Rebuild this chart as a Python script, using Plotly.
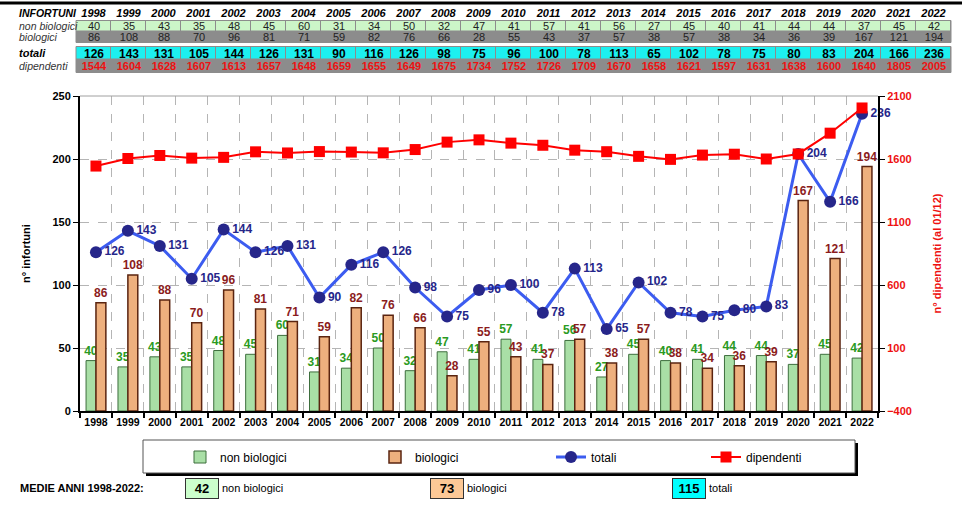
import plotly.graph_objects as go

years = ["1998", "1999", "2000", "2001", "2002", "2003", "2004", "2005", "2006",
         "2007", "2008", "2009", "2010", "2011", "2012", "2013", "2014", "2015",
         "2016", "2017", "2018", "2019", "2020", "2021", "2022"]
non_biologici = [40, 35, 43, 35, 48, 45, 60, 31, 34, 50, 32, 47, 41, 57, 41, 56, 27,
                 45, 40, 41, 44, 44, 37, 45, 42]
biologici = [86, 108, 88, 70, 96, 81, 71, 59, 82, 76, 66, 28, 55, 43, 37, 57, 38, 57,
             38, 34, 36, 39, 167, 121, 194]
totali = [126, 143, 131, 105, 144, 126, 131, 90, 116, 126, 98, 75, 96, 100, 78, 113,
          65, 102, 78, 75, 80, 83, 204, 166, 236]
dipendenti = [1544, 1604, 1628, 1607, 1613, 1657, 1648, 1659, 1655, 1649, 1675, 1734,
              1752, 1726, 1709, 1670, 1658, 1621, 1597, 1631, 1638, 1600, 1640, 1805, 2005]
row_labels = ["non biologici", "biologici", "totali", "dipendenti"]

W, H = 973, 508
FONT = "Liberation Sans, Arial, sans-serif"


def px(x):
    return x / W


def py(y):
    return 1 - y / H


C_GREEN_CELL = "#ccf5c8"
C_ORANGE_CELL = "#f9c696"
C_CYAN = "#1cf0f0"
C_GREEN_BAR = "#a9dfa6"
C_ORANGE_BAR = "#eeb07e"
C_GREEN_TXT = "#2a9a22"
C_RED_TXT = "#8b1c1c"
C_NAVY = "#26268a"
C_BLUE = "#3c5cf0"
C_BORDER = "#8c8c8c"

n = len(years)
fig = go.Figure()

# ---------- top table drawn as heatmaps (one trace per row) ----------
table_rows = [
    (row_labels[0], non_biologici, C_GREEN_CELL, "#222", "normal", 11, "y3"),
    (row_labels[1], biologici, C_ORANGE_CELL, "#222", "normal", 11, "y3"),
    (row_labels[2], totali, C_CYAN, "black", "bold", 12, "y4"),
    (row_labels[3], dipendenti, "white", "#ee1111", "bold", 11, "y4"),
]
for name, vals, fill, tcol, weight, size, yax in table_rows:
    fig.add_trace(go.Heatmap(
        x=years, y=[name], z=[[0] * n], text=[[str(v) for v in vals]],
        texttemplate="%{text}",
        textfont=dict(family=FONT, size=size, color=tcol, weight=weight),
        colorscale=[[0, fill], [1, fill]], showscale=False, xgap=1, ygap=1,
        hoverinfo="skip", xaxis="x3", yaxis=yax))

# ---------- chart ----------
fig.add_trace(go.Bar(
    x=years, y=non_biologici, name="non biologici", legend="legend",
    marker=dict(color=C_GREEN_BAR, line=dict(color="#3d6e3d", width=1)),
    text=[str(v) for v in non_biologici], textposition="outside",
    constraintext="none", cliponaxis=False,
    textfont=dict(family=FONT, size=12, color=C_GREEN_TXT, weight="bold"),
    hoverinfo="skip"))
fig.add_trace(go.Bar(
    x=years, y=biologici, name="biologici", legend="legend2",
    marker=dict(color=C_ORANGE_BAR, line=dict(color="#5a2410", width=1.5)),
    text=[str(v) for v in biologici], textposition="outside",
    constraintext="none", cliponaxis=False,
    textfont=dict(family=FONT, size=12, color=C_RED_TXT, weight="bold"),
    hoverinfo="skip"))
fig.add_trace(go.Scatter(
    x=years, y=totali, name="totali", mode="lines+markers+text", legend="legend3",
    line=dict(color=C_BLUE, width=3),
    marker=dict(symbol="circle", size=12, color=C_NAVY),
    text=[str(v) for v in totali], textposition="middle right",
    textfont=dict(family=FONT, size=12, color=C_NAVY, weight="bold"),
    cliponaxis=False, hoverinfo="skip"))
fig.add_trace(go.Scatter(
    x=years, y=dipendenti, name="dipendenti", mode="lines+markers", yaxis="y2",
    legend="legend4", line=dict(color="#ff0000", width=2),
    marker=dict(symbol="square", size=11, color="#ff0000"),
    cliponaxis=False, hoverinfo="skip"))

# ---------- medie ----------
m_nb = round(sum(non_biologici) / n)
m_b = round(sum(biologici) / n)
m_t = round(sum(totali) / n)


def lab(text, y, size=10.5, color="#333"):
    return dict(text=text, x=px(17), y=py(y), xref="paper", yref="paper",
                xanchor="left", yanchor="middle", showarrow=False,
                font=dict(family=FONT, size=size, color=color))


annotations = [
    lab("<b><i>INFORTUNI</i></b>", 13, 10.5, "black"),
    lab("<i>non biologici</i>", 26),
    lab("<i>biologici</i>", 37),
    lab("<b><i>totali</i></b>", 53, 11, "black"),
    lab("<i>dipendenti</i>", 66),
    dict(text="<b>MEDIE ANNI 1998-2022:</b>", x=px(18), y=py(488), xref="paper",
         yref="paper", xanchor="left", yanchor="middle", showarrow=False,
         font=dict(family=FONT, size=11, color="black")),
]
for val, label, x0, color in [(m_nb, "non biologici", 185, "#ccffcc"),
                              (m_b, "biologici", 430, "#fcc896"),
                              (m_t, "totali", 672, "#00ffff")]:
    annotations.append(dict(
        text="<b>%d</b>" % val, x=px(x0), y=py(488), xref="paper", yref="paper",
        xanchor="left", yanchor="middle", showarrow=False, bgcolor=color,
        bordercolor="#333", borderwidth=1, borderpad=2, width=28, height=15,
        font=dict(family=FONT, size=13, color="black")))
    annotations.append(dict(
        text=label, x=px(x0 + 35), y=py(488), xref="paper", yref="paper",
        xanchor="left", yanchor="middle", showarrow=False,
        font=dict(family=FONT, size=11, color="black")))

shapes = [
    # white background for the chart (plot_bgcolor acts as table border colour)
    dict(type="rect", xref="x domain", yref="y domain", x0=0, x1=1, y0=0, y1=1,
         fillcolor="white", line=dict(width=0), layer="below"),
    # table outlines
    dict(type="rect", xref="x3 domain", yref="y3 domain", x0=0, x1=1, y0=0, y1=1,
         line=dict(color=C_BORDER, width=1), layer="above"),
    dict(type="rect", xref="x3 domain", yref="y4 domain", x0=0, x1=1, y0=0, y1=1,
         line=dict(color=C_BORDER, width=1), layer="above"),
    # thick rule at top
    dict(type="line", xref="paper", yref="paper", x0=0, x1=px(962), y0=py(3),
         y1=py(3), line=dict(color="black", width=3)),
    # plot top border
    dict(type="line", xref="x domain", yref="y domain", x0=0, x1=1, y0=1, y1=1,
         line=dict(color="#a0a0a0", width=1)),
    # legend box shadow and box
    dict(type="rect", xref="paper", yref="paper", x0=px(146), x1=px(858),
         y0=py(476), y1=py(443), fillcolor="black", line=dict(width=0),
         layer="below"),
    dict(type="rect", xref="paper", yref="paper", x0=px(143), x1=px(855),
         y0=py(473), y1=py(440), fillcolor="white",
         line=dict(color="#555", width=1), layer="below"),
]


def leg(text_x):
    return dict(x=px(text_x - 42), y=py(457), xanchor="left", yanchor="middle",
                bgcolor="rgba(0,0,0,0)", borderwidth=0, orientation="h",
                font=dict(family=FONT, size=12, color="black"))


fig.update_layout(
    width=W, height=H, margin=dict(l=0, r=0, t=0, b=0, autoexpand=False),
    paper_bgcolor="white", plot_bgcolor=C_BORDER, hovermode=False,
    font=dict(family=FONT, size=11, color="black"),
    barmode="group", bargap=0.38, bargroupgap=0,
    xaxis=dict(domain=[px(80), px(878)], type="category", tickson="boundaries",
               ticks="outside", ticklen=5, tickwidth=1.5, tickcolor="black",
               showgrid=True, griddash="dash", gridcolor="#b5b5b5", gridwidth=1,
               showline=True, linecolor="black", linewidth=2, tickangle=0,
               automargin=False,
               tickfont=dict(family=FONT, size=10.5, color="black", weight="bold"),
               range=[-0.5, n - 0.5], fixedrange=True),
    yaxis=dict(domain=[py(411), py(96)], range=[0, 250], tick0=0, dtick=50,
               showgrid=True, griddash="dash", gridcolor="#b5b5b5", gridwidth=1,
               zeroline=False, showline=True, linecolor="black", linewidth=2,
               ticks="outside", ticklen=5, tickcolor="black", automargin=False,
               tickfont=dict(family=FONT, size=11, color="black", weight="bold"),
               title=dict(text="<b>n° infortuni</b>", font=dict(size=11), standoff=20)),
    yaxis2=dict(overlaying="y", side="right", anchor="x", range=[-400, 2100],
                tick0=-400, dtick=500, showgrid=False, zeroline=False,
                showline=True, linecolor="black", linewidth=2, ticks="outside",
                ticklen=5, tickcolor="black", automargin=False,
                tickfont=dict(family=FONT, size=11, color="#ee1111", weight="bold"),
                title=dict(text="<b>n° dipendenti (al 01/12)</b>",
                           font=dict(size=11, color="#ee1111"), standoff=22)),
    xaxis3=dict(domain=[px(76), px(951)], anchor="y3", side="top", type="category",
                showgrid=False, showline=False, zeroline=False, ticks="",
                tickangle=0, fixedrange=True, automargin=False,
                range=[-0.5, n - 0.5],
                tickfont=dict(family=FONT, size=11, color="black", weight="bold",
                              style="italic")),
    yaxis3=dict(domain=[py(42.5), py(20.5)], anchor="x3", type="category",
                categoryorder="array", categoryarray=row_labels[:2],
                range=[1.5, -0.5], showticklabels=False, showgrid=False,
                zeroline=False, showline=False, ticks="", fixedrange=True,
                automargin=False),
    yaxis4=dict(domain=[py(72.5), py(46.5)], anchor="x3", type="category",
                categoryorder="array", categoryarray=row_labels[2:],
                range=[1.5, -0.5], showticklabels=False, showgrid=False,
                zeroline=False, showline=False, ticks="", fixedrange=True,
                automargin=False),
    legend=leg(222), legend2=leg(417), legend3=leg(593), legend4=leg(748),
    annotations=annotations, shapes=shapes, showlegend=True,
)

fig.write_html("out.html", config={"displayModeBar": False},
               post_script="document.body.style.margin='0';")
